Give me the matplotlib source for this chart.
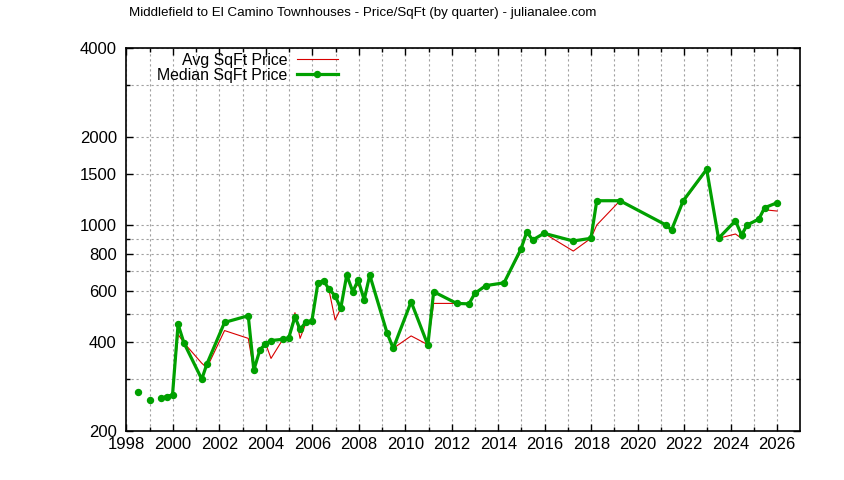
import numpy as np
import matplotlib
matplotlib.use("Agg")
import matplotlib.pyplot as plt
from matplotlib.ticker import FixedLocator, NullFormatter, FixedFormatter

nan = np.nan

# decimal year of each quarter point (nan = break in the line)
quarters = [1998.49, nan, 1999.0, nan, 1999.47, 1999.74, 1999.98, 2000.22, 2000.47,
            2001.24, 2001.46, 2002.22, 2003.24, 2003.48, 2003.74, 2003.97, 2004.22,
            2004.73, 2004.98, 2005.25, 2005.47, 2005.72, 2005.98, 2006.24, 2006.48,
            2006.72, 2006.98, 2007.22, 2007.48, 2007.74, 2007.97, 2008.23, 2008.47,
            2009.21, 2009.48, 2010.25, 2010.97, 2011.22, 2012.21, 2012.74, 2012.99,
            2013.46, 2014.25, 2014.97, 2015.23, 2015.48, 2015.97, 2017.23, 2017.99,
            2018.24, 2019.24, 2021.22, 2021.46, 2021.96, 2022.97, 2023.48, 2024.21,
            2024.47, 2024.71, 2025.22, 2025.46, 2026.0]

median_price = [272, nan, 254, nan, 258, 262, 265, 461, 399,
                300, 338, 468, 493, 322, 377, 395, 406,
                410, 414, 489, 443, 469, 474, 638, 649,
                606, 577, 522, 678, 595, 652, 558, 678,
                432, 382, 550, 392, 595, 543, 541, 587,
                624, 638, 829, 951, 892, 940, 885, 904,
                1213, 1213, 1003, 965, 1213, 1551, 904, 1037,
                927, 1003, 1051, 1148, 1194]

avg_price = [272, nan, 254, nan, 260, 264, 267, 426, 399,
             340, 328, 439, 413, 322, 377, 400, 353,
             410, 415, 505, 413, 465, 474, 630, 649,
             600, 477, 522, 670, 600, 630, 575, 678,
             432, 382, 421, 393, 543, 543, 541, 587,
             620, 638, 815, 940, 892, 940, 818, 904,
             1003, 1213, 1003, 965, 1200, 1540, 904, 935,
             904, 1003, 1051, 1130, 1119]

y_major = [200, 400, 600, 800, 1000, 1500, 2000, 4000]
y_minor = [300, 500, 700, 900, 3000]
x_major = list(range(1998, 2027, 2))
x_minor = list(range(1999, 2027, 2))

title = "Middlefield to El Camino Townhouses - Price/SqFt (by quarter) - julianalee.com"

plt.rcParams['font.family'] = ['Liberation Sans', 'DejaVu Sans']

fig = plt.figure(figsize=(8.44, 4.80), dpi=100)
ax = fig.add_axes([0.14988, 0.10208, 0.79834, 0.79729])

ax.plot(quarters, avg_price, color='#d80000', lw=0.8, label='Avg SqFt Price', zorder=3)
ax.plot(quarters, median_price, color='#00a000', lw=2.3, marker='o', ms=4.3,
        label='Median SqFt Price', zorder=4)

ax.set_yscale('log')
ax.set_xlim(1998, 2027)
ax.set_ylim(200, 4000)

ax.yaxis.set_major_locator(FixedLocator(y_major))
ax.yaxis.set_major_formatter(FixedFormatter([str(v) for v in y_major]))
ax.yaxis.set_minor_locator(FixedLocator(y_minor))
ax.yaxis.set_minor_formatter(NullFormatter())
ax.xaxis.set_major_locator(FixedLocator(x_major))
ax.xaxis.set_major_formatter(FixedFormatter([str(v) for v in x_major]))
ax.xaxis.set_minor_locator(FixedLocator(x_minor))

ax.grid(True, which='both', color='#a0a0a0', lw=0.8, linestyle=(0, (2, 2.5)))
ax.set_axisbelow(True)

ax.tick_params(which='both', direction='in', top=True, right=True, labelsize=12,
               colors='black')
ax.tick_params(which='major', length=5, width=1)
ax.tick_params(which='minor', length=3, width=1)
ax.tick_params(axis='y', pad=7)
ax.tick_params(axis='x', pad=4)
for s in ax.spines.values():
    s.set_linewidth(1.2)
    s.set_color('black')

leg = ax.legend(loc='upper right', bbox_to_anchor=(338 / 844, 1 - 52.5 / 480),
                bbox_transform=fig.transFigure, frameon=False, markerfirst=False,
                fontsize=11.4, handlelength=2.6, handletextpad=0.6,
                labelspacing=0.02, borderpad=0, borderaxespad=0)

fig.text(363 / 844, 1 - 13 / 480, title, ha='center', va='center', fontsize=9.6)

fig.savefig('out.png', dpi=100)
